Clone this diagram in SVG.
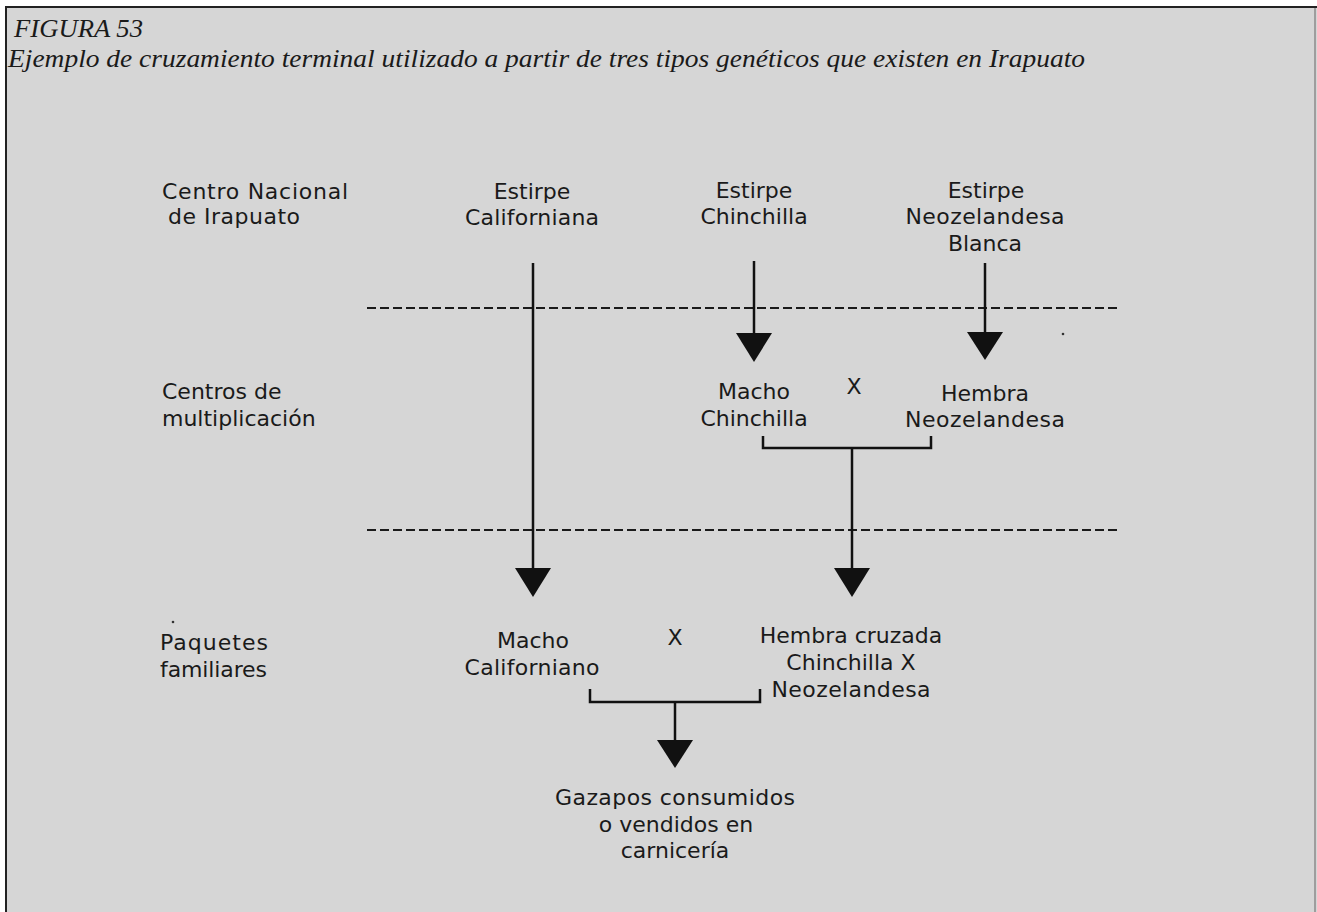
<svg xmlns="http://www.w3.org/2000/svg" width="1317" height="912" viewBox="0 0 1317 912">
<defs>
<style>
.t{font-family:"DejaVu Sans","Liberation Sans",sans-serif;font-size:22px;fill:#1a1a1a}
.c{text-anchor:middle}
.h{font-family:"Liberation Serif","DejaVu Serif",serif;font-style:italic;fill:#1a1a1a}
.dash{stroke:#1a1a1a;stroke-width:2;stroke-dasharray:9 4;fill:none}
.ln{stroke:#111;stroke-width:2.5;fill:none}
.ah{fill:#111}
</style>
</defs>
<rect x="0" y="0" width="1317" height="912" fill="#ffffff"/>
<rect x="6" y="7" width="1311" height="905" fill="#d6d6d6"/>
<g id="frame" stroke="#222" fill="none">
<line x1="5" y1="7" x2="1317" y2="7" stroke-width="2"/>
<line x1="6" y1="6" x2="6" y2="912" stroke-width="2"/>
<line x1="1315" y1="8" x2="1315" y2="912" stroke-width="1" stroke="#666"/>
</g>
<g id="title">
<text class="h" x="14" y="37" font-size="26" textLength="129" lengthAdjust="spacingAndGlyphs">FIGURA 53</text>
<text class="h" x="8" y="67" font-size="26" textLength="1077" lengthAdjust="spacingAndGlyphs">Ejemplo de cruzamiento terminal utilizado a partir de tres tipos genéticos que existen en Irapuato</text>
</g>
<g id="levels">
<line class="dash" x1="367" y1="308" x2="1120" y2="308"/>
<line class="dash" x1="367" y1="530" x2="1120" y2="530"/>
</g>
<g id="label-centro-nacional"><text class="t" x="162" y="199" textLength="186" lengthAdjust="spacing">Centro Nacional</text><text class="t" x="168" y="224" textLength="132" lengthAdjust="spacing">de Irapuato</text></g>
<g id="label-centros-multiplicacion"><text class="t" x="162" y="399">Centros de</text><text class="t" x="162" y="426">multiplicación</text></g>
<g id="label-paquetes"><text class="t" x="160" y="650" textLength="108" lengthAdjust="spacing">Paquetes</text><text class="t" x="160" y="677" textLength="107" lengthAdjust="spacing">familiares</text></g>
<g id="estirpe-californiana"><text class="t c" x="532" y="199">Estirpe</text><text class="t c" x="532" y="225" textLength="134" lengthAdjust="spacing">Californiana</text></g>
<g id="estirpe-chinchilla"><text class="t c" x="754" y="198">Estirpe</text><text class="t c" x="754" y="224">Chinchilla</text></g>
<g id="estirpe-neozelandesa"><text class="t c" x="986" y="198">Estirpe</text><text class="t c" x="985" y="224" textLength="159" lengthAdjust="spacing">Neozelandesa</text><text class="t c" x="985" y="251">Blanca</text></g>
<g id="macho-chinchilla"><text class="t c" x="754" y="399">Macho</text><text class="t c" x="754" y="426">Chinchilla</text></g>
<g id="cross-1"><text class="t c" x="854" y="394">X</text></g>
<g id="hembra-neozelandesa"><text class="t c" x="985" y="401">Hembra</text><text class="t c" x="985" y="427" textLength="160" lengthAdjust="spacing">Neozelandesa</text></g>
<g id="macho-californiano"><text class="t c" x="533" y="648">Macho</text><text class="t c" x="532" y="675" textLength="135" lengthAdjust="spacing">Californiano</text></g>
<g id="cross-2"><text class="t c" x="675" y="645">X</text></g>
<g id="hembra-cruzada"><text class="t c" x="851" y="643">Hembra cruzada</text><text class="t c" x="851" y="670">Chinchilla X</text><text class="t c" x="851" y="697" textLength="159" lengthAdjust="spacing">Neozelandesa</text></g>
<g id="gazapos"><text class="t c" x="675" y="805" textLength="240" lengthAdjust="spacing">Gazapos consumidos</text><text class="t c" x="676" y="832">o vendidos en</text><text class="t c" x="675" y="858">carnicería</text></g>
<g id="connectors">
<line class="ln" x1="533" y1="263" x2="533" y2="570"/>
<polygon class="ah" points="515,568 551,568 533,597"/>
<line class="ln" x1="754" y1="261" x2="754" y2="335"/>
<polygon class="ah" points="736,333 772,333 754,362"/>
<line class="ln" x1="985" y1="263" x2="985" y2="334"/>
<polygon class="ah" points="967,332 1003,332 985,360"/>
<polyline class="ln" points="763,436 763,448 931,448 931,436"/>
<line class="ln" x1="852" y1="448" x2="852" y2="570"/>
<polygon class="ah" points="834,568 870,568 852,597"/>
<polyline class="ln" points="590,689 590,702 760,702 760,689"/>
<line class="ln" x1="675" y1="702" x2="675" y2="742"/>
<polygon class="ah" points="657,740 693,740 675,768"/>
</g>
<g id="specks" fill="#333"><circle cx="173" cy="622" r="1.3"/><circle cx="1063" cy="334" r="1.3"/></g>
</svg>
